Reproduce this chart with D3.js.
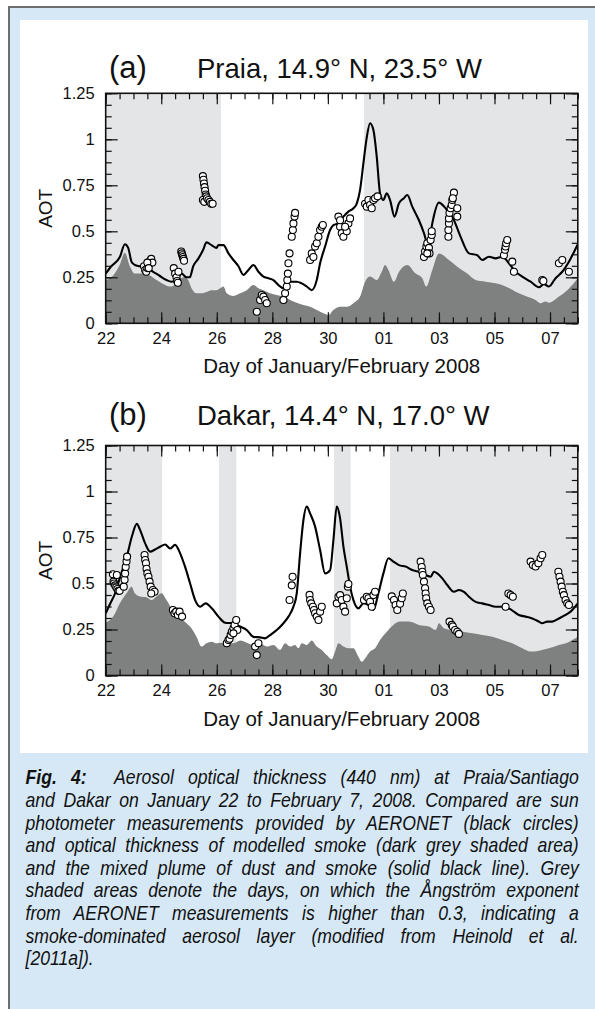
<!DOCTYPE html>
<html>
<head>
<meta charset="utf-8">
<script src="https://cdn.jsdelivr.net/npm/d3@7"></script>
<style>
  html, body { margin: 0; padding: 0; background: #ffffff; }
  svg { display: block; }
  text { font-family: "Liberation Sans", Arial, Helvetica, sans-serif; fill: #111; }
</style>
</head>
<body>
<svg id="fig" width="595" height="1009"></svg>
<script>
// ---- axis definitions (day number counted from 22 January, Feb 1 = 32) ----
const dayDomain = [22, 39];
const dayTicks = [22, 24, 26, 28, 30, 32, 34, 36, 38];
const dayTickLabels = ["22", "24", "26", "28", "30", "01", "03", "05", "07"];
const aotTicks = [0, 0.25, 0.5, 0.75, 1, 1.25];
const aotTickLabels = ["0", "0.25", "0.5", "0.75", "1", "1.25"];

// ---- Praia: days with Angstrom exponent > 0.3 ----
const praiaBands = [[22, 26.15], [31.3, 39]];

// ---- Praia: modelled dust + smoke AOT (solid line) ----
const praiaMixed = [
  [22.0,0.27],[22.2,0.31],[22.51,0.36],[22.69,0.43],[22.81,0.41],[22.93,0.335],[23.05,0.317],
  [23.23,0.31],[23.47,0.30],[23.71,0.28],[23.95,0.257],[24.19,0.235],[24.37,0.226],[24.55,0.235],
  [24.73,0.27],[24.91,0.25],[25.03,0.25],[25.15,0.31],[25.33,0.35],[25.51,0.40],[25.63,0.44],
  [25.81,0.425],[25.99,0.41],[26.06,0.425],[26.24,0.425],[26.42,0.38],[26.6,0.344],[26.78,0.31],
  [26.96,0.263],[27.14,0.29],[27.32,0.317],[27.5,0.28],[27.68,0.254],[27.86,0.245],[28.04,0.235],
  [28.22,0.208],[28.4,0.19],[28.52,0.208],[28.64,0.226],[28.88,0.226],[29.06,0.217],[29.24,0.2],
  [29.42,0.18],[29.6,0.235],[29.72,0.326],[29.9,0.417],[30.08,0.507],[30.2,0.534],[30.38,0.543],
  [30.56,0.58],[30.74,0.607],[30.92,0.625],[31.04,0.65],[31.16,0.725],[31.28,0.87],[31.4,1.01],
  [31.52,1.087],[31.64,1.05],[31.76,0.906],[31.88,0.706],[32.0,0.67],[32.12,0.706],[32.24,0.67],
  [32.4,0.58],[32.56,0.652],[32.74,0.68],[32.86,0.697],[33.04,0.634],[33.28,0.56],[33.46,0.49],
  [33.62,0.417],[33.76,0.543],[34.0,0.656],[34.24,0.625],[34.54,0.56],[34.78,0.47],[35.08,0.38],
  [35.38,0.37],[35.56,0.344],[35.8,0.362],[36.04,0.353],[36.28,0.362],[36.52,0.326],[36.76,0.28],
  [37.0,0.254],[37.3,0.226],[37.6,0.196],[37.78,0.213],[37.96,0.2],[38.2,0.245],[38.44,0.28],
  [38.68,0.335],[39.0,0.43]
];

// ---- Praia: modelled smoke AOT (dark grey area) ----
const praiaSmoke = [
  [22.0,0.235],[22.27,0.26],[22.51,0.32],[22.69,0.384],[22.87,0.31],[23.05,0.27],[23.35,0.27],
  [23.59,0.26],[23.83,0.235],[24.07,0.214],[24.31,0.20],[24.49,0.21],[24.67,0.24],[24.85,0.25],
  [24.97,0.235],[25.09,0.19],[25.27,0.163],[25.45,0.163],[25.63,0.17],[25.81,0.18],[25.99,0.18],
  [26.12,0.19],[26.24,0.2],[26.36,0.163],[26.6,0.149],[26.84,0.163],[27.08,0.18],[27.32,0.208],
  [27.5,0.19],[27.68,0.18],[27.92,0.163],[28.16,0.154],[28.4,0.145],[28.64,0.127],[28.88,0.112],
  [29.12,0.1],[29.36,0.09],[29.6,0.072],[29.84,0.054],[30.02,0.045],[30.2,0.072],[30.44,0.09],
  [30.68,0.09],[30.92,0.109],[31.16,0.145],[31.34,0.226],[31.52,0.254],[31.76,0.235],[31.94,0.28],
  [32.06,0.317],[32.18,0.29],[32.38,0.226],[32.56,0.28],[32.86,0.317],[33.16,0.27],[33.4,0.245],
  [33.54,0.2],[33.76,0.29],[34.0,0.38],[34.36,0.344],[34.66,0.308],[35.02,0.27],[35.32,0.235],
  [35.68,0.226],[36.04,0.217],[36.4,0.2],[36.76,0.172],[37.12,0.149],[37.48,0.127],[37.66,0.109],
  [37.84,0.118],[37.96,0.112],[38.32,0.145],[38.62,0.18],[39.0,0.245]
];

// ---- Praia: AERONET sun photometer AOT (circles) ----
const praiaObs = [
  [23.38,0.31],[23.42,0.29],[23.46,0.28],[23.5,0.30],[23.55,0.32],[23.6,0.34],[23.64,0.35],[23.68,0.33],[23.5,0.33],[23.55,0.30],
  [24.45,0.30],[24.5,0.27],[24.55,0.25],[24.57,0.23],[24.6,0.22],[24.62,0.28],
  [24.72,0.39],[24.74,0.38],[24.76,0.37],[24.78,0.36],[24.8,0.35],[24.82,0.34],
  [25.5,0.80],[25.52,0.78],[25.54,0.76],[25.56,0.74],[25.58,0.72],[25.6,0.70],[25.62,0.69],[25.5,0.67],[25.55,0.66],
  [25.65,0.68],[25.7,0.67],[25.75,0.66],[25.8,0.65],[25.85,0.65],
  [27.44,0.063],[27.56,0.127],[27.62,0.154],[27.68,0.145],[27.74,0.127],[27.8,0.109],
  [28.4,0.127],[28.46,0.163],[28.52,0.2],[28.54,0.235],[28.56,0.27],[28.58,0.326],[28.62,0.38],[28.7,0.47],
  [28.74,0.507],[28.76,0.543],[28.8,0.58],[28.82,0.6],
  [29.36,0.344],[29.42,0.38],[29.48,0.36],[29.54,0.417],[29.6,0.435],[29.66,0.47],[29.72,0.507],[29.78,0.525],[29.82,0.534],
  [30.38,0.58],[30.44,0.525],[30.5,0.49],[30.56,0.47],[30.68,0.5],[30.74,0.543],[30.8,0.57],[30.44,0.56],[30.62,0.525],
  [31.34,0.65],[31.4,0.634],[31.46,0.67],[31.52,0.643],[31.58,0.625],[31.64,0.67],[31.7,0.68],[31.79,0.69],
  [33.46,0.36],[33.5,0.39],[33.55,0.417],[33.58,0.435],[33.64,0.41],[33.7,0.453],[33.74,0.48],[33.74,0.5],[33.66,0.38],[33.58,0.38],
  [34.34,0.47],[34.34,0.507],[34.36,0.543],[34.36,0.57],[34.38,0.6],[34.42,0.625],[34.46,0.643],[34.48,0.67],
  [34.54,0.71],[34.5,0.68],[34.66,0.625],[34.66,0.58],
  [36.34,0.37],[36.38,0.4],[36.4,0.417],[36.42,0.435],[36.46,0.453],[36.64,0.335],[36.7,0.28],
  [37.72,0.235],[37.76,0.23],
  [38.32,0.326],[38.44,0.344],[38.68,0.28]
];

// ---- Dakar: days with Angstrom exponent > 0.3 ----
const dakarBands = [[22, 24.03], [26.08, 26.7], [30.22, 30.82], [32.24, 39]];

// ---- Dakar: modelled dust + smoke AOT (solid line) ----
const dakarMixed = [
  [22.0,0.338],[22.16,0.39],[22.34,0.447],[22.52,0.537],[22.76,0.646],[22.94,0.754],[23.12,0.824],
  [23.24,0.79],[23.42,0.718],[23.6,0.673],[23.78,0.685],[23.96,0.70],[24.14,0.712],[24.32,0.69],
  [24.5,0.71],[24.68,0.664],[24.86,0.59],[25.04,0.50],[25.22,0.41],[25.4,0.374],[25.6,0.392],
  [25.82,0.365],[26.06,0.32],[26.3,0.287],[26.6,0.284],[26.84,0.266],[27.08,0.247],[27.32,0.21],
  [27.56,0.207],[27.74,0.202],[27.92,0.22],[28.16,0.247],[28.4,0.284],[28.58,0.32],[28.76,0.374],
  [28.88,0.447],[29.0,0.664],[29.12,0.845],[29.24,0.918],[29.36,0.881],[29.54,0.809],[29.72,0.682],
  [29.9,0.555],[30.08,0.573],[30.2,0.736],[30.32,0.918],[30.44,0.854],[30.56,0.70],[30.68,0.592],
  [30.8,0.483],[30.92,0.41],[31.1,0.365],[31.28,0.392],[31.46,0.383],[31.64,0.356],[31.82,0.447],
  [32.0,0.555],[32.18,0.637],[32.36,0.619],[32.56,0.60],[32.8,0.592],[33.04,0.573],[33.28,0.564],
  [33.52,0.546],[33.7,0.537],[33.82,0.564],[33.94,0.555],[34.12,0.528],[34.3,0.492],[34.54,0.455],
  [34.72,0.465],[34.9,0.455],[35.08,0.428],[35.32,0.40],[35.56,0.392],[35.8,0.383],[36.04,0.374],
  [36.28,0.374],[36.52,0.365],[36.7,0.347],[36.88,0.329],[37.12,0.32],[37.36,0.31],[37.6,0.293],
  [37.72,0.284],[37.9,0.293],[38.08,0.293],[38.32,0.31],[38.56,0.329],[38.74,0.347],[39.0,0.392]
];

// ---- Dakar: modelled smoke AOT (dark grey area) ----
const dakarSmoke = [
  [22.0,0.287],[22.27,0.32],[22.51,0.392],[22.75,0.447],[22.93,0.483],[23.05,0.447],[23.23,0.43],
  [23.47,0.425],[23.65,0.41],[23.83,0.43],[24.01,0.447],[24.19,0.41],[24.37,0.365],[24.55,0.338],
  [24.73,0.31],[24.91,0.284],[25.09,0.257],[25.27,0.21],[25.45,0.157],[25.63,0.175],[25.81,0.184],
  [25.99,0.175],[26.12,0.178],[26.36,0.175],[26.6,0.175],[26.84,0.19],[27.08,0.178],[27.32,0.166],
  [27.56,0.175],[27.8,0.157],[28.04,0.166],[28.28,0.139],[28.46,0.175],[28.64,0.157],[28.82,0.166],
  [28.94,0.148],[29.06,0.175],[29.24,0.166],[29.42,0.19],[29.6,0.157],[29.78,0.139],[29.96,0.111],
  [30.14,0.088],[30.26,0.13],[30.38,0.175],[30.56,0.157],[30.74,0.148],[30.92,0.148],[31.1,0.102],
  [31.22,0.075],[31.34,0.093],[31.52,0.13],[31.7,0.148],[31.88,0.193],[32.12,0.238],[32.36,0.275],
  [32.6,0.293],[32.92,0.293],[33.28,0.275],[33.64,0.266],[33.88,0.247],[34.0,0.284],[34.18,0.257],
  [34.48,0.247],[34.84,0.238],[35.2,0.229],[35.56,0.22],[35.92,0.211],[36.28,0.193],[36.64,0.175],
  [37.0,0.148],[37.3,0.13],[37.6,0.135],[37.96,0.148],[38.32,0.166],[38.62,0.178],[38.8,0.193],[39.0,0.211]
];

// ---- Dakar: AERONET sun photometer AOT (circles) ----
const dakarObs = [
  [22.26,0.55],[22.28,0.51],[22.3,0.5],[22.34,0.49],[22.38,0.48],[22.42,0.47],[22.46,0.46],[22.5,0.46],[22.4,0.546],
  [22.65,0.483],[22.68,0.52],[22.7,0.555],[22.72,0.59],[22.75,0.62],[22.77,0.646],
  [23.4,0.655],[23.42,0.628],[23.45,0.61],[23.47,0.58],[23.5,0.555],[23.54,0.537],[23.58,0.51],[23.62,0.483],
  [23.7,0.465],[23.76,0.455],[23.64,0.446],
  [24.42,0.356],[24.48,0.338],[24.54,0.347],[24.6,0.329],[24.66,0.347],[24.75,0.32],
  [26.36,0.175],[26.42,0.193],[26.46,0.2],[26.5,0.22],[26.54,0.238],[26.6,0.257],[26.64,0.275],[26.7,0.302],
  [26.74,0.247],[26.6,0.229],
  [27.38,0.157],[27.5,0.175],[27.44,0.111],
  [28.62,0.41],[28.7,0.49],[28.73,0.537],
  [29.34,0.438],[29.36,0.41],[29.4,0.392],[29.46,0.374],[29.5,0.356],[29.54,0.338],[29.6,0.32],[29.66,0.302],
  [29.72,0.347],[29.78,0.374],
  [30.32,0.392],[30.38,0.428],[30.44,0.437],[30.5,0.41],[30.56,0.374],[30.62,0.347],[30.68,0.42],[30.72,0.483],[30.74,0.497],
  [31.3,0.41],[31.4,0.428],[31.46,0.42],[31.52,0.401],[31.58,0.374],[31.64,0.437],[31.7,0.455],
  [32.3,0.43],[32.38,0.41],[32.44,0.383],[32.5,0.356],[32.6,0.39],[32.66,0.42],[32.7,0.446],
  [33.34,0.619],[33.38,0.59],[33.4,0.564],[33.42,0.546],[33.46,0.51],[33.5,0.474],[33.52,0.446],[33.54,0.42],
  [33.58,0.392],[33.64,0.374],[33.7,0.356],
  [34.38,0.293],[34.46,0.275],[34.5,0.266],[34.58,0.247],[34.66,0.238],[34.72,0.226],
  [36.4,0.374],[36.5,0.446],[36.58,0.437],[36.66,0.428],
  [37.3,0.619],[37.38,0.6],[37.48,0.592],[37.58,0.61],[37.66,0.637],[37.72,0.655],
  [38.3,0.564],[38.34,0.537],[38.38,0.51],[38.42,0.483],[38.46,0.455],[38.5,0.437],[38.56,0.41],[38.62,0.392],[38.68,0.383]
];

// ---- caption, one entry per printed line ----
const captionLines = [
  "Aerosol optical thickness (440 nm) at Praia/Santiago",
  "and Dakar on January 22 to February 7, 2008. Compared are sun",
  "photometer measurements provided by AERONET (black circles)",
  "and optical thickness of modelled smoke (dark grey shaded area)",
  "and the mixed plume of dust and smoke (solid black line). Grey",
  "shaded areas denote the days, on which the Ångström exponent",
  "from AERONET measurements is higher than 0.3, indicating a",
  "smoke-dominated aerosol layer (modified from Heinold et al.",
  "[2011a])."
];

const svg = d3.select("#fig");

// page frame: light blue box with grey rule, white chart panel
svg.append("rect").attr("x", 9).attr("y", 7).attr("width", 600).attr("height", 1010)
  .attr("fill", "#d6e8f6").attr("stroke", "#6e6e6e").attr("stroke-width", 2);
svg.append("rect").attr("x", 20).attr("y", 20).attr("width", 568).attr("height", 733)
  .attr("fill", "#ffffff");

const plotLeft = 105.7, plotRight = 577.8, plotHeight = 230;
const x = d3.scaleLinear().domain(dayDomain).range([plotLeft, plotRight]);

const minorDays = d3.range(22, 39.01, 0.5);
const minorAot = d3.range(0, 1.2501, 0.0625);

function drawPanel(cfg) {
  const y = d3.scaleLinear().domain([0, 1.25]).range([cfg.top + plotHeight, cfg.top]);
  const g = svg.append("g");
  const clipId = "clip-" + cfg.id;
  g.append("clipPath").attr("id", clipId).append("rect")
    .attr("x", plotLeft).attr("y", cfg.top).attr("width", plotRight - plotLeft).attr("height", plotHeight);
  const plot = g.append("g").attr("clip-path", `url(#${clipId})`);

  // Angstrom exponent > 0.3 days
  plot.selectAll("rect.band").data(cfg.bands).join("rect").attr("class", "band")
    .attr("x", d => x(d[0])).attr("width", d => x(d[1]) - x(d[0]))
    .attr("y", cfg.top).attr("height", plotHeight).attr("fill", "#e4e5e7");

  // modelled smoke
  plot.append("path").datum(cfg.smoke)
    .attr("d", d3.area().x(d => x(d[0])).y0(y(0)).y1(d => y(d[1])).curve(d3.curveMonotoneX))
    .attr("fill", "#7f8080");

  // modelled dust + smoke
  plot.append("path").datum(cfg.mixed)
    .attr("d", d3.line().x(d => x(d[0])).y(d => y(d[1])).curve(d3.curveMonotoneX))
    .attr("fill", "none").attr("stroke", "#000").attr("stroke-width", 2.1).attr("stroke-linejoin", "round");

  // AERONET measurements
  plot.selectAll("circle.obs").data(cfg.obs).join("circle").attr("class", "obs")
    .attr("cx", d => x(d[0])).attr("cy", d => y(d[1])).attr("r", 3.5)
    .attr("fill", "#fff").attr("stroke", "#000").attr("stroke-width", 1.1);

  // ticks pointing inwards on all four sides
  const bottom = cfg.top + plotHeight;
  const axB = g.append("g").attr("transform", `translate(0,${bottom})`);
  axB.call(d3.axisBottom(x).tickValues(minorDays).tickSize(-6).tickFormat(""));
  const axBM = g.append("g").attr("transform", `translate(0,${bottom})`);
  axBM.call(d3.axisBottom(x).tickValues(dayTicks).tickSize(-11).tickPadding(9)
    .tickFormat((d, i) => dayTickLabels[i]));
  const axT = g.append("g").attr("transform", `translate(0,${cfg.top})`);
  axT.call(d3.axisTop(x).tickValues(minorDays).tickSize(-6).tickFormat(""));
  axT.append("g").call(d3.axisTop(x).tickValues(dayTicks).tickSize(-11).tickFormat(""));
  const axL = g.append("g").attr("transform", `translate(${plotLeft},0)`);
  axL.call(d3.axisLeft(y).tickValues(minorAot).tickSize(-6).tickFormat(""));
  const axLM = g.append("g").attr("transform", `translate(${plotLeft},0)`);
  axLM.call(d3.axisLeft(y).tickValues(aotTicks).tickSize(-12).tickPadding(11)
    .tickFormat((d, i) => aotTickLabels[i]));
  const axR = g.append("g").attr("transform", `translate(${plotRight},0)`);
  axR.call(d3.axisRight(y).tickValues(minorAot).tickSize(-6).tickFormat(""));
  axR.append("g").call(d3.axisRight(y).tickValues(aotTicks).tickSize(-12).tickFormat(""));

  g.selectAll(".domain").remove();
  g.selectAll(".tick line").attr("stroke", "#111").attr("stroke-width", 1.2);
  g.selectAll(".tick text").attr("font-size", 16.5).attr("fill", "#111")
    .attr("font-family", "'Liberation Sans', Arial, Helvetica, sans-serif");

  // frame
  g.append("rect").attr("x", plotLeft).attr("y", cfg.top)
    .attr("width", plotRight - plotLeft).attr("height", plotHeight)
    .attr("fill", "none").attr("stroke", "#111").attr("stroke-width", 1.6);

  // titles and axis names
  g.append("text").attr("x", 109).attr("y", cfg.titleY).attr("font-size", 31).text(cfg.letter);
  g.append("text").attr("x", 197).attr("y", cfg.titleY).attr("font-size", 27.5).text(cfg.title);
  g.append("text").attr("transform", `translate(51.5,${cfg.top + plotHeight / 2}) rotate(-90)`)
    .attr("text-anchor", "middle").attr("font-size", 19).text("AOT");
  g.append("text").attr("x", (plotLeft + plotRight) / 2).attr("y", bottom + 50)
    .attr("text-anchor", "middle").attr("font-size", 20.5).text("Day of January/February 2008");
}

drawPanel({ id: "praia", top: 93.3, titleY: 78, letter: "(a)", title: "Praia, 14.9° N, 23.5° W",
  bands: praiaBands, smoke: praiaSmoke, mixed: praiaMixed, obs: praiaObs });
drawPanel({ id: "dakar", top: 445.5, titleY: 425, letter: "(b)", title: "Dakar, 14.4° N, 17.0° W",
  bands: dakarBands, smoke: dakarSmoke, mixed: dakarMixed, obs: dakarObs });

// caption: condensed italic, justified by widening the word gaps of each full line
const capLeft = 25.5, capRight = 579, capTop = 784.5, capStep = 22.6;
const capWidth = capRight - capLeft;
const cap = svg.append("g").attr("font-size", 20.5).attr("font-style", "italic");
const capTexts = captionLines.map((line, i) => {
  const t = cap.append("text").attr("y", capTop + i * capStep);
  if (i === 0) {
    t.append("tspan").attr("font-weight", "bold").text("Fig. 4:");
    t.append("tspan").text("\u00a0 " + line);
  } else {
    t.text(line);
  }
  return t;
});
const natural = capTexts.map(t => t.node().getComputedTextLength());
const squeeze = Math.min(0.86, d3.min(natural.slice(0, -1), w => capWidth / w));
cap.attr("transform", `scale(${squeeze},1)`);
capTexts.forEach((t, i) => {
  t.attr("x", capLeft / squeeze);
  if (i < capTexts.length - 1) {
    const full = i === 0 ? "Fig. 4:\u00a0 " + captionLines[0] : captionLines[i];
    const gaps = (full.match(/[ \u00a0]/g) || []).length;
    const extra = (capWidth / squeeze - natural[i]) / gaps;
    t.style("word-spacing", `${extra}px`);
  }
});
</script>
</body>
</html>
